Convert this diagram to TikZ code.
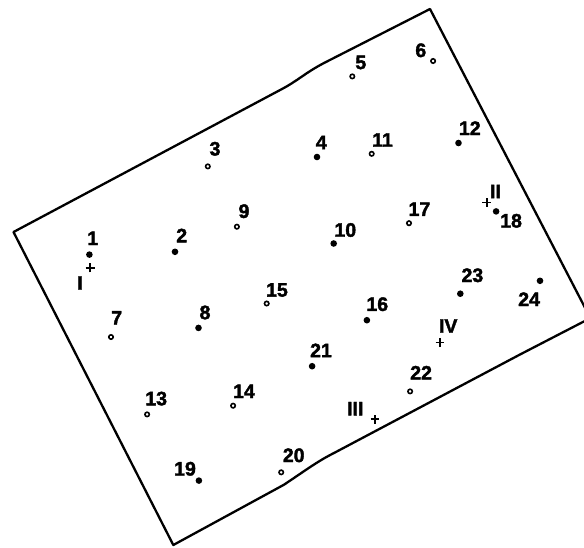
\documentclass[tikz,border=0pt]{standalone}
\usepackage{fontspec}
\setmainfont{Liberation Sans}
\newfontfamily\lblfont{Liberation Sans}[UprightFont=*-Bold, FakeBold=2]
\usetikzlibrary{shapes.misc}
\begin{document}
\begin{tikzpicture}[x=1pt,y=-1pt,
  border/.style={line width=2.3pt, line join=round},
  fdot/.style={circle, fill=black, inner sep=0pt, minimum size=6.6pt},
  odot/.style={circle, draw=black, line width=1.6pt, inner sep=0pt, minimum size=4.4pt},
  crossmark/.style={cross out, draw=black, rotate=45, line width=1.7pt, inner sep=0pt, minimum size=4.6pt},
  lbl/.style={inner sep=0pt, anchor=center, font=\lblfont\fontsize{19.5}{19.5}\selectfont}]
\useasboundingbox (0,0) rectangle (584,547);
\clip (0,0) rectangle (584,547);
\fill[white] (0,0) rectangle (584,547);
% border
\coordinate (cL) at (13.5,232);
\coordinate (cT) at (430,9);
\coordinate (cR) at (590.4,318.1);
\coordinate (cB) at (173.3,545);
\draw[border] (cL) -- (282,89) .. controls (298,80.5) and (305,73) .. (324,63) -- (cT) -- (cR)
  -- (520,354.5) -- (334,453) .. controls (318,461) and (306,470) .. (284,484.7) -- (cB) -- cycle;
% points
\node[fdot] (p1) at (89.4,254.6) {};
\node[fdot] (p2) at (175,251.8) {};
\node[odot] (p3) at (207.8,166.4) {};
\node[fdot] (p4) at (317,157) {};
\node[odot] (p5) at (352.3,76.4) {};
\node[odot] (p6) at (433.1,61) {};
\node[odot] (p7) at (111,337) {};
\node[fdot] (p8) at (198.5,327.9) {};
\node[odot] (p9) at (236.9,226.7) {};
\node[fdot] (p10) at (333.7,243.5) {};
\node[odot] (p11) at (371.7,153.8) {};
\node[fdot] (p12) at (458.5,143) {};
\node[odot] (p13) at (147.1,414.4) {};
\node[odot] (p14) at (233.1,405.7) {};
\node[odot] (p15) at (266.7,303.5) {};
\node[fdot] (p16) at (366.9,320.2) {};
\node[odot] (p17) at (409,223.2) {};
\node[fdot] (p18) at (496.1,211.4) {};
\node[fdot] (p19) at (198.9,480.6) {};
\node[odot] (p20) at (281.2,472.3) {};
\node[fdot] (p21) at (312.1,366.2) {};
\node[odot] (p22) at (410.1,391.4) {};
\node[fdot] (p23) at (460.3,293.7) {};
\node[fdot] (p24) at (540,280.8) {};
% crosses
\node[crossmark] (xI) at (90.1,267.9) {};
\node[crossmark] (xII) at (486.8,202.5) {};
\node[crossmark] (xIII) at (375,419.3) {};
\node[crossmark] (xIV) at (440,342.6) {};
% labels
\node[lbl] (l1) at (92.7,238.3) {1};
\node[lbl] (lI) at (80,283) {I};
\node[lbl] (l2) at (181.7,235.5) {2};
\node[lbl] (l3) at (215,148.8) {3};
\node[lbl] (l4) at (321.3,142.5) {4};
\node[lbl] (l5) at (360.8,62.5) {5};
\node[lbl] (l6) at (420.8,50.3) {6};
\node[lbl] (l7) at (116.7,317.8) {7};
\node[lbl] (l8) at (205,312.5) {8};
\node[lbl] (l9) at (244,211.2) {9};
\node[lbl] (l10) at (345.3,230) {10};
\node[lbl] (l11) at (382.5,140) {11};
\node[lbl] (l12) at (469.8,128.2) {12};
\node[lbl] (l13) at (156.2,398.6) {13};
\node[lbl] (l14) at (244,391.3) {14};
\node[lbl] (l15) at (277,290) {15};
\node[lbl] (l16) at (377.3,304.2) {16};
\node[lbl] (l17) at (419.4,209.2) {17};
\node[lbl] (l18) at (511.1,220.8) {18};
\node[lbl] (lII) at (495.5,191.5) {II};
\node[lbl] (l23) at (472.4,275.3) {23};
\node[lbl] (l24) at (529.1,299.2) {24};
\node[lbl] (lIV) at (448.2,326) {IV};
\node[lbl] (l21) at (321,350.4) {21};
\node[lbl] (l22) at (421.1,372.7) {22};
\node[lbl] (lIII) at (355.3,408.7) {III};
\node[lbl] (l19) at (185,468.8) {19};
\node[lbl] (l20) at (293.7,455.3) {20};
\end{tikzpicture}
\end{document}
